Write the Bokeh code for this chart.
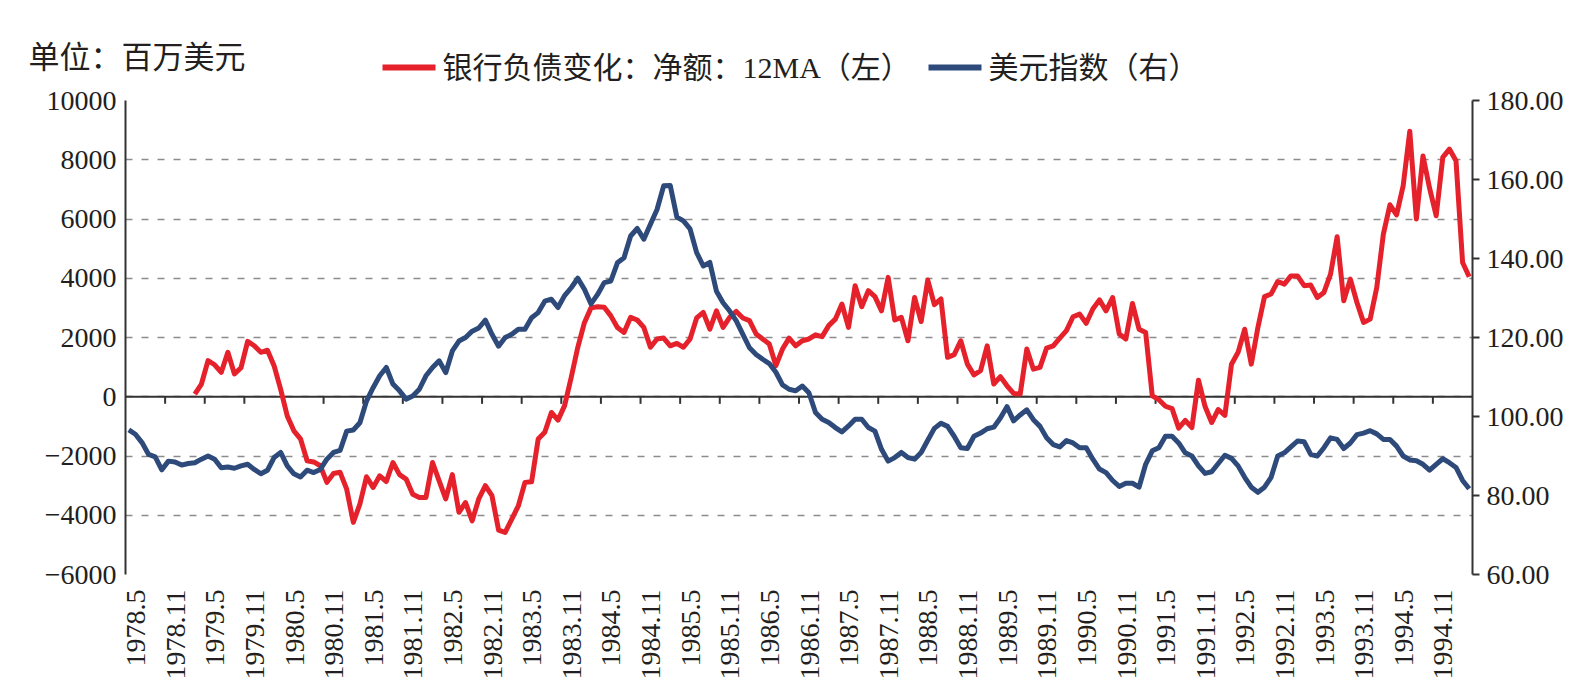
import math
import numpy as np
from bokeh.plotting import figure
from bokeh.layouts import column
from bokeh.models import (Range1d, LinearAxis, FixedTicker, Span, Label,
                          CustomJSTickFormatter, ColumnDataSource)
from bokeh.embed import file_html
from bokeh.resources import INLINE

# ---- data: monthly, 1978.5 .. 1995.4 -------------------------------------
x_labels = [
    "1978.5", "1978.11", "1979.5", "1979.11", "1980.5", "1980.11",
    "1981.5", "1981.11", "1982.5", "1982.11", "1983.5", "1983.11",
    "1984.5", "1984.11", "1985.5", "1985.11", "1986.5", "1986.11",
    "1987.5", "1987.11", "1988.5", "1988.11", "1989.5", "1989.11",
    "1990.5", "1990.11", "1991.5", "1991.11", "1992.5", "1992.11",
    "1993.5", "1993.11", "1994.5", "1994.11",
]

# bank liabilities, net change, 12-month average (USD mn) - left axis
liabilities = [
    None, None, None, None, None, None, None, None, None, None,
    90, 430, 1220, 1080, 820, 1500, 770, 980, 1870, 1720,
    1500, 1570, 1050, 250, -650, -1150, -1420, -2160, -2200, -2330,
    -2890, -2590, -2550, -3120, -4240, -3620, -2700, -3060, -2670, -2860,
    -2220, -2630, -2780, -3290, -3400, -3400, -2220, -2840, -3450, -2630,
    -3900, -3570, -4190, -3450, -3000, -3340, -4500, -4580, -4130, -3680,
    -2890, -2870, -1430, -1200, -530, -790, -300, 650, 1670, 2500,
    3000, 3040, 3020, 2730, 2340, 2170, 2680, 2590, 2340, 1670,
    1950, 1980, 1720, 1800, 1670, 1950, 2660, 2850, 2280, 2900,
    2340, 2680, 2880, 2660, 2570, 2120, 1950, 1780, 1050, 1610,
    1980, 1720, 1890, 1950, 2090, 2030, 2400, 2620, 3130, 2340,
    3750, 3040, 3580, 3380, 2900, 4030, 2590, 2680, 1890, 3350,
    2540, 3940, 3110, 3300, 1330, 1420, 1890, 1100, 740, 880,
    1720, 430, 680, 370, 110, 90, 1610, 930, 990, 1640,
    1720, 1980, 2230, 2700, 2790, 2480, 2960, 3270, 2900, 3350,
    2120, 1950, 3150, 2280, 2170, 30, -100, -320, -400, -1060,
    -800, -1040, 560, -330, -870, -430, -630, 1100, 1500, 2280,
    1100, 2340, 3380, 3470, 3890, 3800, 4080, 4080, 3750, 3770,
    3350, 3520, 4140, 5400, 3240, 3970, 3180, 2510, 2620, 3690,
    5490, 6480, 6140, 7120, 8960, 6000, 8130, 7040, 6110, 8080,
    8360, 7970, 4530, 4050,
]

# US dollar index - right axis
dollar_index = [
    96.6, 95.5, 93.4, 90.4, 89.8, 86.5, 88.7, 88.5, 87.7, 88.1,
    88.3, 89.2, 90.0, 89.2, 87.0, 87.2, 86.9, 87.5, 87.9, 86.6,
    85.5, 86.4, 89.6, 90.9, 87.5, 85.5, 84.7, 86.4, 85.8, 86.6,
    89.2, 90.9, 91.4, 96.3, 96.6, 98.4, 103.9, 107.3, 110.3, 112.4,
    108.2, 106.5, 104.4, 105.2, 106.9, 110.3, 112.4, 114.1, 111.1, 116.6,
    119.1, 120.0, 121.6, 122.4, 124.4, 120.8, 117.8, 120.0, 120.8, 122.1,
    122.1, 125.0, 126.3, 129.2, 129.7, 127.6, 130.6, 132.6, 135.0, 132.2,
    128.5, 130.9, 133.9, 134.3, 138.9, 140.2, 145.7, 147.6, 144.9, 148.7,
    152.4, 158.4, 158.5, 150.5, 149.5, 147.5, 141.5, 138.1, 139.0, 131.7,
    128.8, 126.7, 124.2, 120.8, 117.4, 115.7, 114.5, 113.4, 111.2, 108.0,
    106.9, 106.5, 107.7, 106.0, 101.0, 99.3, 98.5, 97.2, 96.1, 97.6,
    99.3, 99.3, 97.2, 96.3, 91.7, 88.7, 89.6, 90.9, 89.6, 89.2,
    90.9, 94.0, 97.0, 98.3, 97.5, 95.0, 92.1, 91.9, 95.0, 95.8,
    96.9, 97.3, 99.6, 102.5, 98.9, 100.4, 101.7, 99.2, 97.5, 94.6,
    92.9, 92.3, 93.9, 93.3, 92.1, 92.1, 89.2, 86.7, 85.8, 83.8,
    82.3, 83.1, 83.1, 82.1, 87.9, 91.3, 92.1, 95.0, 95.0, 93.3,
    90.8, 90.0, 87.5, 85.6, 86.0, 88.1, 90.2, 89.4, 87.5, 84.6,
    82.1, 80.8, 82.1, 84.6, 90.0, 90.8, 92.3, 93.8, 93.6, 90.4,
    90.0, 92.1, 94.6, 94.2, 91.9, 93.3, 95.4, 95.8, 96.4, 95.6,
    94.2, 94.2, 92.5, 90.0, 89.0, 88.8, 87.9, 86.4, 87.9, 89.3,
    88.3, 87.1, 83.8, 81.7,
]

left_ticks = [-6000, -4000, -2000, 0, 2000, 4000, 6000, 8000, 10000]
right_ticks = [60, 80, 100, 120, 140, 160, 180]
right_tick_labels = ["60.00", "80.00", "100.00", "120.00", "140.00", "160.00", "180.00"]

series_red = "银行负债变化：净额：12MA（左）"
series_blue = "美元指数（右）"
unit_text = "单位：百万美元"

# ---- styling -------------------------------------------------------------
RED = "#e5212b"
BLUE = "#2d4a7a"
INK = "#231f20"
AXIS = "#333333"
GRID = "#8c8c8c"
NUM_FONT = "Liberation Serif"
CJK_FONT = "Liberation Serif, Noto Sans CJK SC"
NUM_SIZE = "28px"
LINE_W = 5

W = 1586
HEADER_H = 84

n = len(dollar_index)
months = np.arange(n) + 0.5           # each month sits in the middle of its slot
src = ColumnDataSource(dict(
    x=months,
    red=np.array(liabilities, dtype=float),
    blue=np.array(dollar_index, dtype=float),
))

# ---- main chart ----------------------------------------------------------
p = figure(width=W, height=692 - HEADER_H, output_backend="svg", toolbar_location=None,
           x_range=Range1d(0, n), y_range=Range1d(left_ticks[0], left_ticks[-1]),
           min_border_left=125, min_border_right=114,
           min_border_top=16, min_border_bottom=118)
p.extra_y_ranges = {"right": Range1d(right_ticks[0], right_ticks[-1])}
p.outline_line_color = None
p.background_fill_color = "white"
p.border_fill_color = "white"

# grid: dashed horizontal lines at the left-axis ticks
p.xgrid.visible = False
p.ygrid.ticker = FixedTicker(ticks=left_ticks)
p.ygrid.grid_line_color = GRID
p.ygrid.grid_line_width = 1.5
p.ygrid.grid_line_dash = "7 9"

# left axis
ya = p.yaxis[0]
ya.ticker = FixedTicker(ticks=left_ticks)
ya.major_label_overrides = {t: (f"\u2212{abs(t)}" if t < 0 else str(t)) for t in left_ticks}
ya.major_tick_in = 0
ya.major_tick_out = 0
ya.major_tick_line_color = None
ya.minor_tick_line_color = None
ya.axis_line_color = AXIS
ya.axis_line_width = 2
ya.major_label_standoff = 9
ya.major_label_text_font = NUM_FONT
ya.major_label_text_font_size = NUM_SIZE
ya.major_label_text_color = INK

# right axis
ra = LinearAxis(y_range_name="right", ticker=FixedTicker(ticks=right_ticks),
                major_label_overrides=dict(zip(right_ticks, right_tick_labels)))
ra.major_tick_in = 0
ra.major_tick_out = 7
ra.major_tick_line_color = AXIS
ra.major_tick_line_width = 2
ra.minor_tick_line_color = None
ra.axis_line_color = AXIS
ra.axis_line_width = 2
ra.major_label_standoff = 7
ra.major_label_text_font = NUM_FONT
ra.major_label_text_font_size = NUM_SIZE
ra.major_label_text_color = INK
p.add_layout(ra, "right")

# bottom axis: only the rotated month labels (the visible axis line sits at zero)
label_shift = 1.6
label_pos = [6 * k + label_shift for k in range(len(x_labels))]
xa = p.xaxis[0]
xa.ticker = FixedTicker(ticks=label_pos)
xa.formatter = CustomJSTickFormatter(args=dict(labels=x_labels, shift=label_shift),
                                     code="return labels[Math.round((tick - shift) / 6)] || '';")
xa.axis_line_color = None
xa.major_tick_in = 0
xa.major_tick_out = 0
xa.major_tick_line_color = None
xa.minor_tick_line_color = None
xa.major_label_orientation = math.pi / 2
xa.major_label_standoff = 15
xa.major_label_text_font = NUM_FONT
xa.major_label_text_font_size = NUM_SIZE
xa.major_label_text_color = INK

# zero line acting as the category axis, with a tick every six months
zero = Span(location=0, dimension="width", line_color=AXIS, line_width=2, level="underlay")
p.add_layout(zero)
tick_x = [6 * k for k in range(1, len(x_labels))]
tick_len = 240
p.segment(x0=tick_x, x1=tick_x, y0=[0] * len(tick_x), y1=[-tick_len] * len(tick_x),
          line_color=AXIS, line_width=2)

# series
p.line("x", "red", source=src, line_color=RED, line_width=LINE_W, line_join="round")
p.line("x", "blue", source=src, y_range_name="right", line_color=BLUE,
       line_width=LINE_W, line_join="round")

# ---- header: unit note and legend (pixel layout, y grows downward) -------
hdr = figure(width=W, height=HEADER_H, output_backend="svg", toolbar_location=None,
             x_range=Range1d(0, W), y_range=Range1d(HEADER_H, 0),
             x_axis_location=None, y_axis_location=None,
             min_border=0, min_border_left=0, min_border_right=0,
             min_border_top=0, min_border_bottom=0)
hdr.grid.visible = False
hdr.outline_line_color = None
hdr.background_fill_color = "white"
hdr.border_fill_color = "white"

# keep each figure's frame where its own borders put it
for fig in (hdr, p):
    if hasattr(fig, "frame_align"):
        fig.frame_align = False

key_y = 67
key_w = 53
legend_entries = [(series_red, RED, 382), (series_blue, BLUE, 928)]
for text, color, x0 in legend_entries:
    hdr.segment(x0=[x0], x1=[x0 + key_w], y0=[key_y], y1=[key_y],
                line_color=color, line_width=6, line_cap="butt")
    hdr.add_layout(Label(x=x0 + key_w + 7, y=key_y, text=text, text_font=CJK_FONT,
                         text_font_size="30px", text_baseline="middle", text_color=INK))

hdr.add_layout(Label(x=28, y=57, text=unit_text, text_font=CJK_FONT,
                     text_font_size="31px", text_baseline="middle", text_color=INK))

layout = column(hdr, p, spacing=0)
open("out.html", "w").write(file_html(layout, INLINE))
